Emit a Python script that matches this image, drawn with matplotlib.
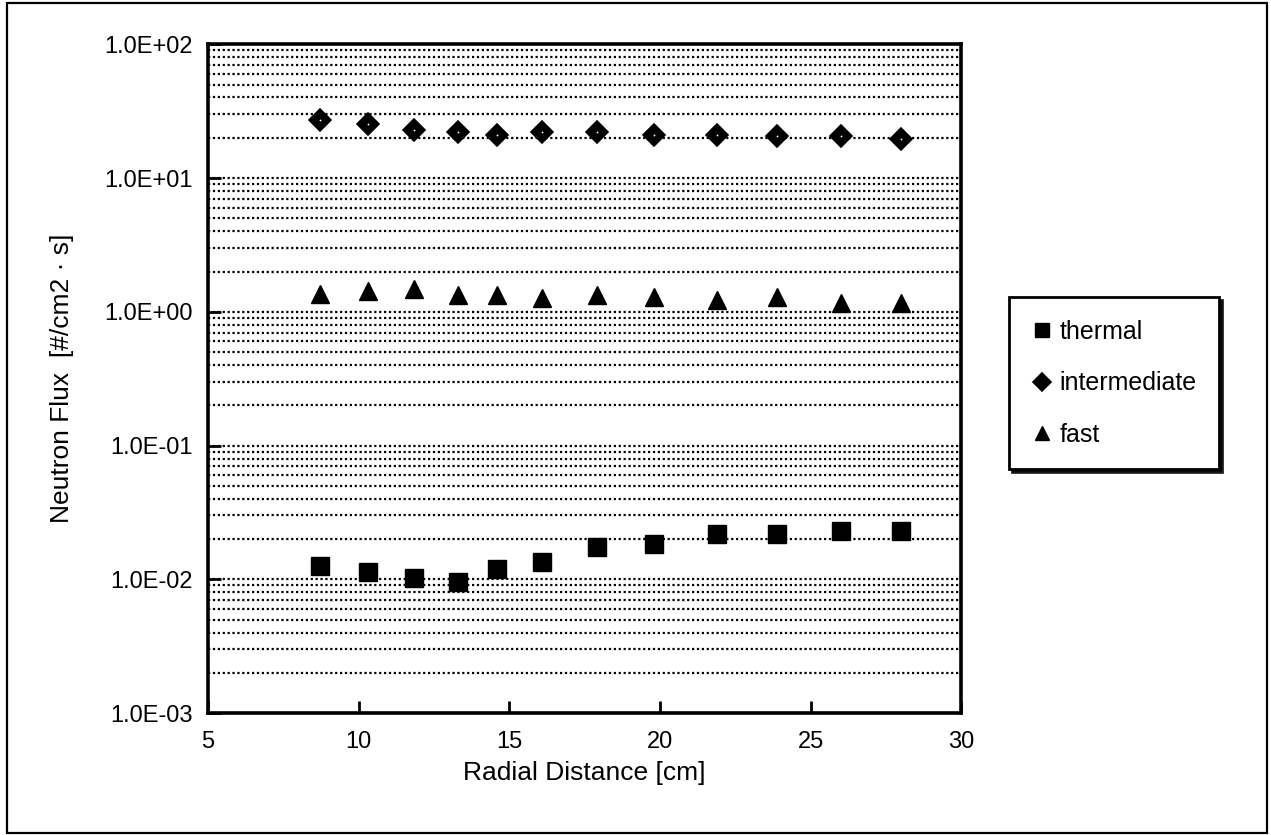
import matplotlib
matplotlib.use("Agg")
import matplotlib.pyplot as plt
from matplotlib.ticker import FuncFormatter, LogLocator, MultipleLocator
from matplotlib.patches import Rectangle

plt.rcParams["font.family"] = ["Liberation Sans", "DejaVu Sans"]

# radial distance [cm]
distance = [8.7, 10.3, 11.85, 13.3, 14.6, 16.1, 17.9, 19.8, 21.9, 23.9, 26.0, 28.0]
# neutron flux [#/cm2 s]
thermal = [0.0125, 0.0114, 0.0102, 0.0095, 0.0119, 0.0135, 0.0174, 0.0183,
           0.0220, 0.0220, 0.0230, 0.0230]
intermediate = [27.0, 25.5, 23.0, 22.0, 21.0, 22.0, 22.0, 21.0, 21.0, 20.5, 20.5, 19.5]
fast = [1.35, 1.43, 1.49, 1.34, 1.33, 1.27, 1.33, 1.28, 1.23, 1.28, 1.16, 1.16]

fig = plt.figure(figsize=(12.71, 8.35), dpi=100)
fig.patch.set_facecolor("white")
ax = fig.add_axes([0.1637, 0.146, 0.5925, 0.801])

ax.set_yscale("log")
ax.set_ylim(1e-3, 1e2)
ax.set_xlim(5, 30)

ax.plot(distance, thermal, ls="none", marker="s", ms=13, mfc="black",
        mec="black", label="thermal", zorder=3)
ax.plot(distance, intermediate, ls="none", marker="D", ms=11, mfc="black",
        mec="black", mew=1.2, label="intermediate", zorder=3)
ax.plot(distance, intermediate, ls="none", marker="o", ms=1.3, mfc="white",
        mec="none", zorder=4)
ax.plot(distance, fast, ls="none", marker="^", ms=13, mfc="black",
        mec="black", label="fast", zorder=3)

ax.yaxis.set_major_locator(LogLocator(base=10, numticks=10))
ax.yaxis.set_minor_locator(LogLocator(base=10, subs=range(2, 10), numticks=20))
ax.yaxis.set_major_formatter(FuncFormatter(lambda v, p: f"{v:.1E}"))
ax.xaxis.set_major_locator(MultipleLocator(5))

ax.grid(True, axis="y", which="both", color="black", linestyle=(0, (1, 1.2)),
        linewidth=1.6)
ax.set_axisbelow(True)

ax.tick_params(axis="both", which="major", direction="in", length=9, width=2,
               labelsize=17, pad=11)
ax.tick_params(axis="y", which="minor", length=0)
ax.tick_params(axis="x", pad=13)
for s in ax.spines.values():
    s.set_linewidth(2.6)
    s.set_color("black")

ax.set_xlabel("Radial Distance [cm]", fontsize=19, labelpad=6)
ax.set_ylabel("Neutron Flux  [#/cm2 \u00b7 s]", fontsize=19)
ax.yaxis.set_label_coords(-0.178, 0.5)

handles, labels = ax.get_legend_handles_labels()
leg = fig.legend(handles, labels, loc="upper left", bbox_to_anchor=(0.794, 0.644),
                 borderaxespad=0, fontsize=18, frameon=True, fancybox=False,
                 shadow={"color": "black", "alpha": 0.85}, labelspacing=1.1,
                 handlelength=0.8, handletextpad=0.3, borderpad=0.9,
                 markerscale=0.8, edgecolor="black")
leg.get_frame().set_linewidth(2)

fig.patches.append(Rectangle((0.0055, 0.0024), 0.991, 0.994, transform=fig.transFigure,
                             fill=False, edgecolor="black", linewidth=1.6))

fig.savefig("out.png", dpi=100)
